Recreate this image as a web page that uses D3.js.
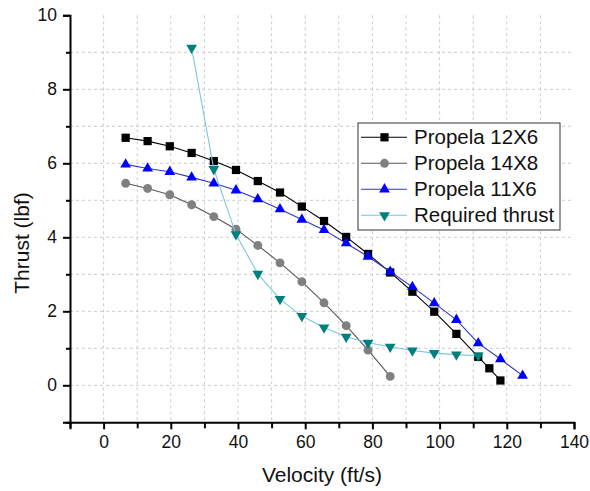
<!DOCTYPE html>
<html>
<head>
<meta charset="utf-8">
<script src="https://cdn.jsdelivr.net/npm/d3@7"></script>
<style>
  body { margin: 0; background: #fff; }
  text { font-family: "Liberation Sans", Arial, sans-serif; }
</style>
</head>
<body>
<svg id="chart"></svg>
<script>
// velocities (ft/s)
var vel = [6.56, 13.1, 19.7, 26.2, 32.8, 39.4, 45.9, 52.5, 59.0, 65.6, 72.2, 78.7, 85.3, 91.9, 98.4, 105.0, 111.5];
var vel12x6 = vel.concat([114.8, 118.1]);
var vel14x8 = vel.slice(0, 13);
var vel11x6 = vel.concat([118.1, 124.7]);
var velReq = vel.slice(3);

var thrust12x6 = [6.69, 6.60, 6.46, 6.28, 6.06, 5.82, 5.52, 5.21, 4.83, 4.44, 4.01, 3.55, 3.05, 2.53, 1.99, 1.39, 0.77, 0.46, 0.13];
var thrust14x8 = [5.46, 5.32, 5.15, 4.88, 4.56, 4.22, 3.78, 3.31, 2.80, 2.23, 1.61, 0.95, 0.24];
var thrust11x6 = [5.97, 5.86, 5.77, 5.62, 5.46, 5.27, 5.03, 4.76, 4.48, 4.20, 3.84, 3.48, 3.07, 2.66, 2.22, 1.77, 1.14, 0.71, 0.26];
var thrustReq = [9.12, 5.84, 4.08, 3.01, 2.33, 1.87, 1.56, 1.31, 1.15, 1.04, 0.94, 0.87, 0.83, 0.80];

var seriesNames = ["Propela 12X6", "Propela 14X8", "Propela 11X6", "Required thrust"];
var xTicks = [0, 20, 40, 60, 80, 100, 120, 140];
var yTicks = [0, 2, 4, 6, 8, 10];

var width = 590, height = 491;
var svg = d3.select("#chart").attr("width", width).attr("height", height);

var x = d3.scaleLinear().domain([-10, 140]).range([70, 574]);
var y = d3.scaleLinear().domain([-1, 10]).range([422.3, 15.3]);

// grid
var grid = svg.append("g");
grid.selectAll("line.v")
  .data(d3.range(0, 140, 10))
  .join("line")
  .attr("x1", d => x(d)).attr("x2", d => x(d))
  .attr("y1", y(10)).attr("y2", y(-1))
  .attr("stroke", "#cccccc").attr("stroke-dasharray", "3,3");
grid.selectAll("line.h")
  .data(d3.range(0, 10, 1))
  .join("line")
  .attr("x1", x(-10)).attr("x2", x(140))
  .attr("y1", d => y(d)).attr("y2", d => y(d))
  .attr("stroke", "#cccccc").attr("stroke-dasharray", "3,3");

// axes
var xAxis = svg.append("g")
  .attr("transform", "translate(0," + y(-1) + ")")
  .call(d3.axisBottom(x).tickValues(xTicks).tickSize(7).tickPadding(6));
svg.append("g")
  .attr("transform", "translate(0," + y(-1) + ")")
  .call(d3.axisBottom(x).tickValues(d3.range(-10, 140, 20)).tickSize(6).tickFormat(""))
  .call(g => g.select(".domain").remove())
  .selectAll("line").attr("stroke", "#000").attr("stroke-width", 2);

var yAxis = svg.append("g")
  .attr("transform", "translate(" + x(-10) + ",0)")
  .call(d3.axisLeft(y).tickValues(yTicks).tickSize(7).tickPadding(6));
svg.append("g")
  .attr("transform", "translate(" + x(-10) + ",0)")
  .call(d3.axisLeft(y).tickValues([-1, 1, 3, 5, 7, 9]).tickSize(4).tickFormat(""))
  .call(g => g.select(".domain").remove())
  .selectAll("line").attr("stroke", "#000").attr("stroke-width", 2);

[xAxis, yAxis].forEach(function (a) {
  a.select(".domain").attr("stroke", "#000").attr("stroke-width", 2);
  a.selectAll(".tick line").attr("stroke", "#000").attr("stroke-width", 2);
  a.selectAll(".tick text").attr("font-size", 17.5).attr("fill", "#111")
    .style("font-family", "'Liberation Sans', Arial, sans-serif");
});

// axis titles
svg.append("text")
  .attr("x", 322).attr("y", 482)
  .attr("text-anchor", "middle")
  .attr("font-size", 21)
  .attr("fill", "#111")
  .text("Velocity (ft/s)");
svg.append("text")
  .attr("transform", "translate(29,243) rotate(-90)")
  .attr("text-anchor", "middle")
  .attr("font-size", 21)
  .attr("fill", "#111")
  .text("Thrust (lbf)");

var series = [
  { name: seriesNames[0], xs: vel12x6, ys: thrust12x6, line: "#000", fill: "#000", sym: d3.symbolSquare, size: 68, rot: 0 },
  { name: seriesNames[1], xs: vel14x8, ys: thrust14x8, line: "#555", fill: "#808080", sym: d3.symbolCircle, size: 62, rot: 0 },
  { name: seriesNames[2], xs: vel11x6, ys: thrust11x6, line: "#3434c8", fill: "#0000ff", sym: d3.symbolTriangle, size: 50, rot: 0 },
  { name: seriesNames[3], xs: velReq, ys: thrustReq, line: "#7cc6dc", fill: "#007f7f", sym: d3.symbolTriangle, size: 50, rot: 180 }
];

var line = d3.line().x(d => x(d[0])).y(d => y(d[1]));

series.forEach(function (s) {
  var pts = s.xs.map((v, i) => [v, s.ys[i]]);
  var g = svg.append("g");
  g.append("path")
    .attr("d", line(pts))
    .attr("fill", "none")
    .attr("stroke", s.line)
    .attr("stroke-width", 1.1);
  g.selectAll("path.m")
    .data(pts)
    .join("path")
    .attr("class", "m")
    .attr("d", d3.symbol().type(s.sym).size(s.size))
    .attr("transform", d => "translate(" + x(d[0]) + "," + y(d[1]) + ") rotate(" + s.rot + ")")
    .attr("fill", s.fill);
});

// legend
var legend = svg.append("g").attr("transform", "translate(358,123)");
legend.append("rect")
  .attr("width", 202).attr("height", 107)
  .attr("fill", "#fff").attr("stroke", "#333").attr("stroke-width", 1);
series.forEach(function (s, i) {
  var ly = 14.3 + i * 26;
  var row = legend.append("g").attr("transform", "translate(0," + ly + ")");
  row.append("line")
    .attr("x1", 3).attr("x2", 49)
    .attr("stroke", s.line).attr("stroke-width", 1.1);
  row.append("path")
    .attr("d", d3.symbol().type(s.sym).size(s.size))
    .attr("transform", "translate(26.5,0) rotate(" + s.rot + ")")
    .attr("fill", s.fill);
  row.append("text")
    .attr("x", 56).attr("y", 7)
    .attr("font-size", 20.5)
    .attr("fill", "#111")
    .text(s.name);
});
</script>
</body>
</html>
